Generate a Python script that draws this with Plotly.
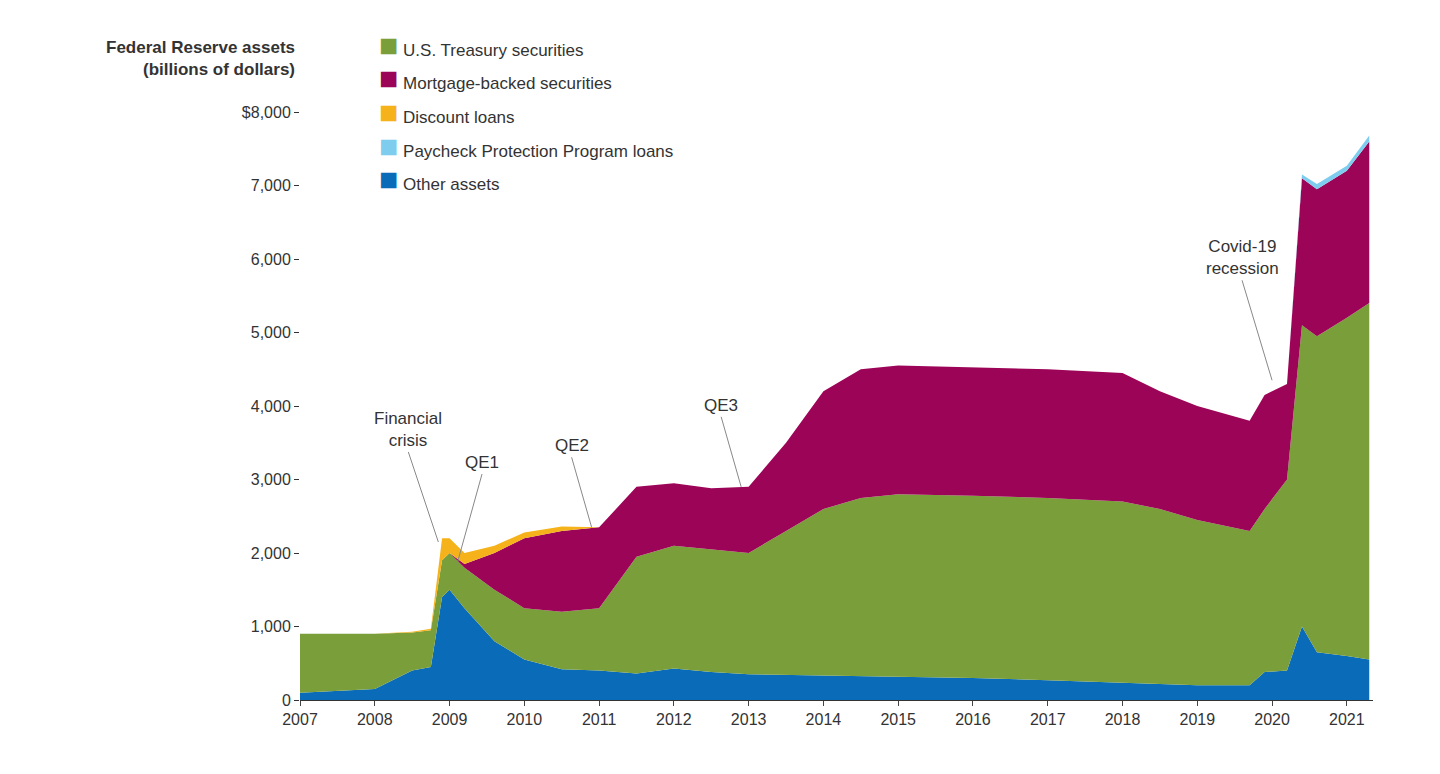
import plotly.graph_objects as go

years = [2007, 2008, 2008.5, 2008.75, 2008.9, 2009, 2009.2, 2009.6, 2010, 2010.5, 2011, 2011.5,
         2012, 2012.5, 2013, 2013.5, 2014, 2014.5, 2015, 2016, 2017, 2018, 2018.5, 2019,
         2019.7, 2019.9, 2020.2, 2020.4, 2020.6, 2021, 2021.3]

other_assets = [100, 150, 400, 450, 1400, 1500, 1250, 800, 550, 420, 400, 360, 430, 380, 350, 340,
                330, 320, 320, 300, 270, 240, 220, 200, 200, 380, 400, 1000, 650, 600, 550]
treasury = [800, 750, 520, 500, 500, 500, 550, 700, 700, 780, 850, 1590, 1670, 1670, 1650, 1960,
            2270, 2430, 2480, 2480, 2480, 2460, 2380, 2250, 2100, 2220, 2600, 4100, 4300, 4600, 4850]
mbs = [0, 0, 0, 0, 0, 0, 50, 500, 950, 1100, 1100, 950, 850, 830, 900, 1200, 1600, 1750, 1750,
       1750, 1750, 1750, 1600, 1550, 1500, 1550, 1300, 2000, 2000, 2000, 2200]
discount = [0, 0, 10, 20, 300, 200, 150, 100, 80, 60, 0, 0, 0, 0, 0, 0, 0, 0, 0, 0, 0, 0, 0, 0,
            0, 0, 0, 0, 0, 0, 0]
ppp = [0] * 27 + [50, 70, 70, 80]

series = [
    ("Other assets", other_assets, "#0a6cb8"),
    ("U.S. Treasury securities", treasury, "#7a9e3a"),
    ("Mortgage-backed securities", mbs, "#9c0457"),
    ("Discount loans", discount, "#f5b21a"),
    ("Paycheck Protection Program loans", ppp, "#7fcdee"),
]

fig = go.Figure()
for name, vals, col in series:
    fig.add_trace(go.Scatter(x=years, y=vals, name=name, stackgroup="a", mode="lines",
                             line=dict(width=0, color=col), fillcolor=col))

# legend in the reference's order, drawn as annotations
legend_order = ["U.S. Treasury securities", "Mortgage-backed securities", "Discount loans",
                "Paycheck Protection Program loans", "Other assets"]
for i, name in enumerate(legend_order):
    col = [c for n, v, c in series if n == name][0]
    fig.add_annotation(xref="paper", yref="paper", x=0.072, y=1.148 - i * 0.057,
                       text="<span style='color:%s;font-size:32px'>■</span> %s" % (col, name),
                       showarrow=False, xanchor="left", font=dict(size=17, color="#333"))

notes = [
    ("Financial<br>crisis", 2008.85, 2150, -30, -90),
    ("QE1", 2009.1, 1850, 25, -90),
    ("QE2", 2010.9, 2350, -20, -70),
    ("QE3", 2012.9, 2900, -20, -70),
    ("Covid-19<br>recession", 2020.0, 4350, -30, -100),
]
for t, x, y, ax, ay in notes:
    fig.add_annotation(x=x, y=y, text=t, showarrow=True, arrowhead=0, arrowwidth=1,
                       arrowcolor="#888", ax=ax, ay=ay, font=dict(size=17, color="#333"),
                       yanchor="bottom")

fig.add_annotation(xref="paper", yref="paper", x=-0.003, y=1.129, xanchor="right", yanchor="top",
                   showarrow=False, align="right",
                   text="<b>Federal Reserve assets<br>(billions of dollars)</b>",
                   font=dict(size=17, color="#333"))

fig.update_layout(
    width=1440, height=774, plot_bgcolor="white", paper_bgcolor="white",
    margin=dict(l=292, r=75, t=104, b=82), showlegend=False,
    font=dict(family="Liberation Sans, Arial", size=16, color="#333"),
)
fig.update_xaxes(range=[2007, 2021.35], tickvals=list(range(2007, 2022)), showgrid=False,
                 showline=True, linecolor="#333", ticks="outside", ticklen=5, zeroline=False)
fig.update_yaxes(range=[0, 8000], tickvals=list(range(0, 8001, 1000)),
                 ticktext=["0"] + ["{:,}".format(v) for v in range(1000, 8000, 1000)] + ["$8,000"],
                 showgrid=False, showline=False, zeroline=False, ticks="outside", ticklen=5,
                 tickcolor="#333")

fig.write_html("out.html")
